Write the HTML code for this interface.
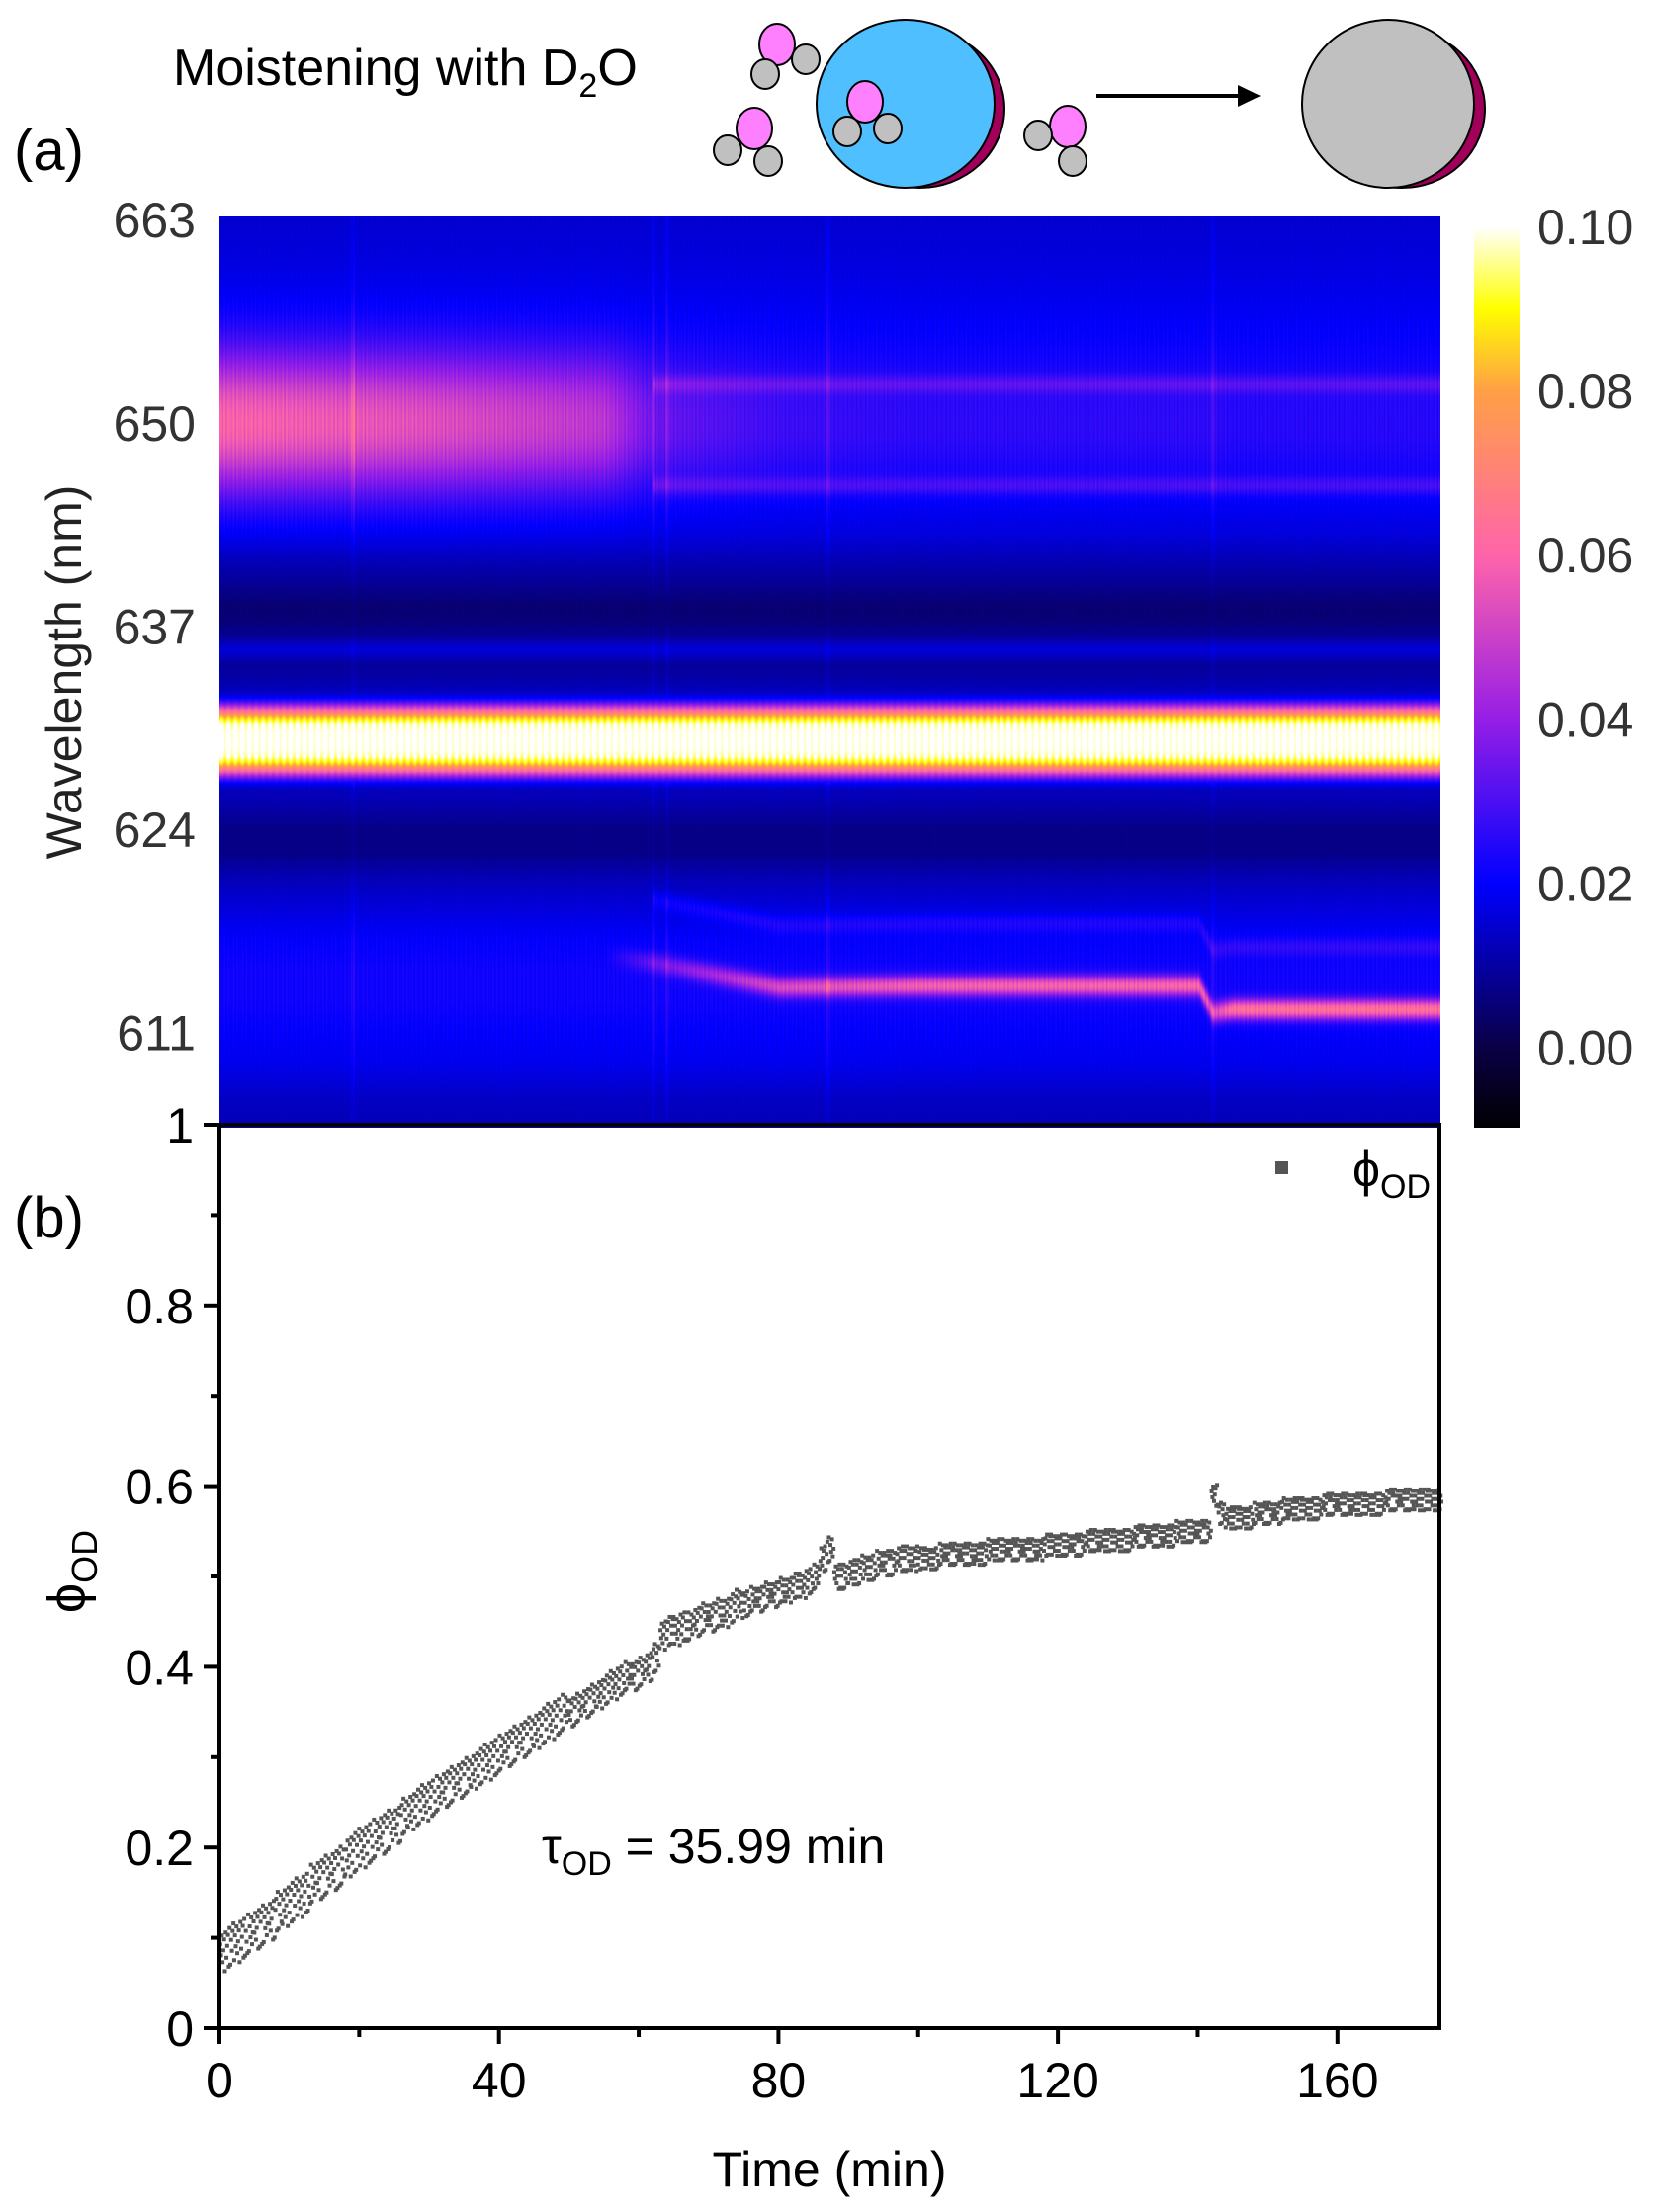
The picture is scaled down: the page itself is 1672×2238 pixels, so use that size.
<!DOCTYPE html>
<html><head><meta charset="utf-8">
<style>
html,body{margin:0;padding:0;background:#fff;}
#wrap{position:relative;width:1672px;height:2238px;overflow:hidden;font-family:"Liberation Sans",sans-serif;}
canvas,svg{position:absolute;left:0;top:0;}
</style></head>
<body>
<div id="wrap">
<canvas id="heat" width="1235" height="922" style="left:222px;top:219px;"></canvas>
<canvas id="cbar" width="46" height="912" style="left:1491px;top:229px;"></canvas>
<svg id="svg" width="1672" height="2238">
  <g>
    <text x="175" y="86" font-size="52" fill="#000">Moistening with D<tspan font-size="34" dy="12">2</tspan><tspan dy="-12">O</tspan></text>
    <ellipse cx="930" cy="110" rx="86" ry="80" fill="#a0005a" stroke="#000" stroke-width="2"/>
    <ellipse cx="916" cy="105" rx="90" ry="85" fill="#4fbfff" stroke="#000" stroke-width="2"/>
    <line x1="1109" y1="97" x2="1262" y2="97" stroke="#000" stroke-width="4"/>
    <polygon points="1275,97 1252,86 1252,108" fill="#000"/>
    <ellipse cx="1418" cy="110" rx="84" ry="80" fill="#a0005a" stroke="#000" stroke-width="2"/>
    <ellipse cx="1404" cy="105" rx="87" ry="85" fill="#c0c0c0" stroke="#000" stroke-width="2"/>
    <g stroke="#000" stroke-width="2">
      <ellipse cx="786" cy="45" rx="18" ry="21" fill="#ff80ff"/>
      <ellipse cx="815" cy="60" rx="14" ry="15" fill="#c0c0c0"/>
      <ellipse cx="774" cy="75" rx="14" ry="15" fill="#c0c0c0"/>
      <ellipse cx="763" cy="130" rx="18" ry="21" fill="#ff80ff"/>
      <ellipse cx="736" cy="152" rx="14" ry="15" fill="#c0c0c0"/>
      <ellipse cx="777" cy="163" rx="14" ry="15" fill="#c0c0c0"/>
      <ellipse cx="875" cy="103" rx="18" ry="21" fill="#ff80ff"/>
      <ellipse cx="857" cy="133" rx="14" ry="15" fill="#c0c0c0"/>
      <ellipse cx="898" cy="130" rx="14" ry="15" fill="#c0c0c0"/>
      <ellipse cx="1080" cy="128" rx="18" ry="21" fill="#ff80ff"/>
      <ellipse cx="1050" cy="137" rx="14" ry="15" fill="#c0c0c0"/>
      <ellipse cx="1085" cy="163" rx="14" ry="15" fill="#c0c0c0"/>
    </g>
  </g>
  <text x="14" y="172" font-size="58">(a)</text>
  <text x="14" y="1252" font-size="58">(b)</text>
  <g id="heatAxis"></g>
  <text transform="translate(82,680) rotate(-90)" text-anchor="middle" font-size="50" fill="#222">Wavelength (nm)</text>
  <g id="cbarAxis"></g>
  <g id="plotB"></g>
</svg>
</div>
<script>
// ===== Heatmap data =====
const wlMin = 604.9, wlMax = 663.2, tMax = 174.6;
const wlTicks = [663, 650, 637, 624, 611];
const wlKeys  = [605,607,609,611,613,615,617,619,621,622.5,624,626,633,634.5,635.5,636.5,637.5,638.5,640,643,646,649,652,655,658,661,663];
const baseVals= [0.012,0.014,0.018,0.02,0.022,0.022,0.02,0.016,0.012,0.007,0.007,0.012,0.012,0.009,0.016,0.008,0.005,0.005,0.009,0.016,0.02,0.022,0.022,0.02,0.018,0.016,0.015];
const mainCenter = 629.7, mainAmp = 0.09;
const bandTimes = [0, 30, 55, 62, 80, 100, 140, 142, 145, 175];
const upperAmp  = [0.038, 0.032, 0.025, 0.012, 0.006, 0.004, 0.004, 0.004, 0.003, 0.003];
const lowerCenter=[616, 616, 616, 615.5, 613.9, 614, 614, 612.3, 612.5, 612.5];
const lowerAmp  = [0.0, 0.0, 0.0, 0.012, 0.03, 0.036, 0.038, 0.03, 0.042, 0.042];
const spikeTimes = [19, 62, 64, 87, 142];
const cbTicks = [0.10, 0.08, 0.06, 0.04, 0.02, 0.00];
const cbMin = -0.0098, cbMax = 0.1;

function interp(xs, ys, x){
  if (x<=xs[0]) return ys[0];
  for (let i=1;i<xs.length;i++){ if (x<=xs[i]){ const f=(x-xs[i-1])/(xs[i]-xs[i-1]); return ys[i-1]+f*(ys[i]-ys[i-1]); } }
  return ys[ys.length-1];
}
const cmStops = [-0.01,0.0,0.02,0.04,0.06,0.08,0.09,0.10];
const cmR = [0,10,0,150,255,255,255,255];
const cmG = [0,0,0,30,100,160,255,255];
const cmB = [0,70,255,230,170,70,0,255];
function cmap(v){ return [interp(cmStops,cmR,v),interp(cmStops,cmG,v),interp(cmStops,cmB,v)]; }

const HW=1235, HH=922;
function tOfX(x){ return x/HW*tMax; }
function wlOfY(y){ return wlMax - y/HH*(wlMax-wlMin); }
function yOfWl(w){ return (wlMax-w)/(wlMax-wlMin)*HH; }

(function(){
  const c=document.getElementById('heat'), ctx=c.getContext('2d');
  const img=ctx.createImageData(HW,HH), d=img.data;
  for (let x=0;x<HW;x++){
    const t=tOfX(x);
    const uA=interp(bandTimes,upperAmp,t), lC=interp(bandTimes,lowerCenter,t), lA=interp(bandTimes,lowerAmp,t);
    let tex = 1 + 0.1*Math.sin(x*1.7)*Math.sin(x*0.31);
    for (const s of spikeTimes){ if (Math.abs(t-s)<0.3) tex*=1.15; }
    const late = t>62 ? 1 : 0;
    for (let y=0;y<HH;y++){
      const w=wlOfY(y);
      let v=interp(wlKeys,baseVals,w);
      const dm=(w-mainCenter)/2.2;
      v += mainAmp*Math.exp(-dm*dm*dm*dm)*(1+0.05*Math.sin(x*0.9));
      v += uA*Math.exp(-Math.pow((w-650)/3.2,2)/2);
      v += lA*Math.exp(-Math.pow((w-lC)/0.45,2)/2);
      if (late){ v += 0.008*Math.exp(-Math.pow((w-652.5)/0.4,2)/2) + 0.008*Math.exp(-Math.pow((w-646)/0.4,2)/2) + 0.006*Math.exp(-Math.pow((w-(lC+4))/0.4,2)/2); }
      v*= (w>627 && w<632.5) ? 1 : tex;
      const col=cmap(v), i=(y*HW+x)*4;
      d[i]=col[0]; d[i+1]=col[1]; d[i+2]=col[2]; d[i+3]=255;
    }
  }
  ctx.putImageData(img,0,0);
  const cb=document.getElementById('cbar'), cx=cb.getContext('2d');
  for (let y=0;y<912;y++){ const v=cbMax-(y/912)*(cbMax-cbMin); const col=cmap(v); cx.fillStyle='rgb('+col.map(Math.round).join(',')+')'; cx.fillRect(0,y,46,1); }
})();

const NS='http://www.w3.org/2000/svg';
function mk(tag, attrs, parent){ const e=document.createElementNS(NS,tag); for(const k in attrs) e.setAttribute(k,attrs[k]); parent.appendChild(e); return e; }

(function(){
  const g=document.getElementById('heatAxis');
  wlTicks.forEach(w=>{
    const t=mk('text',{x:198,y:219+yOfWl(w)+18,'text-anchor':'end','font-size':50,fill:'#333'},g);
    
    
    t.textContent=w;
  });
  const ca=document.getElementById('cbarAxis');
  cbTicks.forEach(v=>{
    const y=229+(cbMax-v)/(cbMax-cbMin)*912;
    const t=mk('text',{x:1555,y:y+18,'font-size':50,fill:'#333'},ca);
    
    
    t.textContent=v.toFixed(2);
  });
})();

// ===== Panel (b) data =====
const phi = [
.085,.09,.095,.10,.105,.11,.115,.12,.13,.135,
.14,.145,.15,.16,.165,.17,.175,.18,.19,.195,
.20,.205,.21,.215,.22,.225,.235,.24,.245,.25,
.255,.26,.265,.27,.275,.28,.285,.29,.295,.30,
.305,.31,.315,.32,.325,.33,.335,.34,.345,.35,
.35,.355,.36,.365,.37,.375,.38,.385,.39,.39,
.395,.40,.41,.435,.44,.44,.445,.445,.45,.455,
.455,.46,.46,.465,.47,.47,.475,.475,.48,.48,
.485,.485,.49,.49,.495,.50,.52,.53,.50,.50,
.505,.505,.51,.51,.515,.515,.515,.52,.52,.52,
.52,.52,.52,.525,.525,.525,.525,.525,.525,.525,
.53,.53,.53,.53,.53,.53,.53,.53,.535,.535,
.535,.535,.535,.535,.54,.54,.54,.54,.54,.54,
.54,.545,.545,.545,.545,.545,.545,.55,.55,.55,
.55,.55,.59,.57,.565,.565,.565,.565,.57,.57,
.57,.57,.575,.575,.575,.575,.575,.575,.58,.58,
.58,.58,.58,.58,.58,.58,.58,.585,.585,.585,
.585,.585,.585,.585,.585];
const phiSpread = [0.022,0.02,0.016,0.014,0.012,0.012,0.012];  // per 25-min block
const xTicks = [0,40,80,120,160];
const yTicks = [0,0.2,0.4,0.6,0.8,1];

(function(){
  const g=document.getElementById('plotB');
  const L=222,R=1456,T=1138,B=2052;
  const X=t=>L+t/tMax*(R-L), Y=v=>B-v*(B-T);
  const pg=mk('g',{},g);
  
  
  const offs=[-0.9,0.35,-0.2,0.8,-0.55,0.05,0.6,-1.0,0.95];
  phi.forEach((v,i)=>{
    const s=phiSpread[Math.min(phiSpread.length-1,Math.floor(i/25))];
    for (let k=0;k<9;k++){
      const off=offs[(k+i*4)%9]*s, dx=k/9;
      const r=mk('rect',{x:X(i+dx)-2,y:Y(v+off)-2,width:4,height:4,fill:'#555'},pg);
      
      
    }
  });
  const fr=mk('path',{d:`M${L} ${T} L${L} ${B} L${R} ${B} L${R} ${T} Z`,fill:'none',stroke:'#000','stroke-width':4},g);
  
  
  for (let t=0;t<=170;t+=20){
    const major=t%40===0;
    const l=mk('line',{x1:X(t),x2:X(t),y1:B,y2:B+(major?16:9),stroke:'#000','stroke-width':4},g);
    
    
  }
  xTicks.forEach(t=>{
    const tx=mk('text',{x:X(t),y:B+70,'text-anchor':'middle','font-size':50},g);
    
    
    tx.textContent=t;
  });
  for (let i=0;i<=10;i++){
    const v=i/10, major=i%2===0;
    const l=mk('line',{x1:L,x2:L-(major?16:9),y1:Y(v),y2:Y(v),stroke:'#000','stroke-width':4},g);
    
    
  }
  yTicks.forEach(v=>{
    const tx=mk('text',{x:196,y:Y(v)+18,'text-anchor':'end','font-size':50},g);
    
    
    tx.textContent=(v===0||v===1)?String(v):v.toFixed(1);
  });
  const xt=mk('text',{x:(L+R)/2,y:2212,'text-anchor':'middle','font-size':50},g);
  
  
  xt.textContent='Time (min)';
  const yt=mk('text',{transform:'translate(86,1590) rotate(-90)','text-anchor':'middle','font-size':54},g);
  
  
  yt.innerHTML='ϕ<tspan font-size="36" dy="12">OD</tspan>';
  const lm=mk('rect',{x:1290,y:1175,width:13,height:13,fill:'#555'},g);
  
  
  const lt=mk('text',{x:1368,y:1200,'font-size':50},g);
  
  
  lt.innerHTML='ϕ<tspan font-size="34" dy="12">OD</tspan>';
  const an=mk('text',{x:548,y:1885,'font-size':50},g);
  
  
  an.innerHTML='τ<tspan font-size="34" dy="12">OD</tspan><tspan dy="-12"> = 35.99 min</tspan>';
})();
</script>
</body></html>
